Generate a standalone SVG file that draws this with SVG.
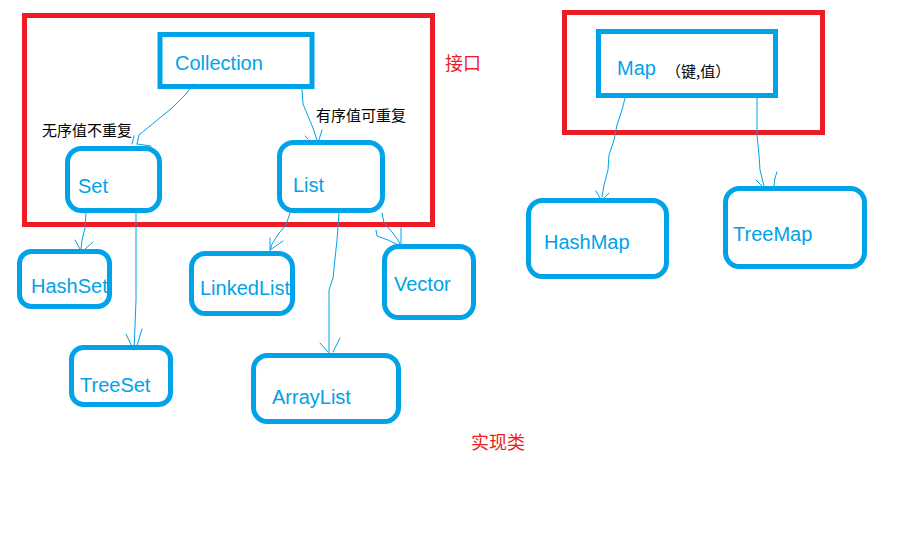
<svg xmlns="http://www.w3.org/2000/svg" width="924" height="540" viewBox="0 0 924 540">
<style>
.frame{fill:none;stroke:#ED1C24;stroke-width:5}
.box{fill:none;stroke:#00A2E8;stroke-width:5}
.lbl{font-family:"Liberation Sans",Arial,sans-serif;font-size:20px;fill:#00A2E8}
.note{font-family:"Noto Sans CJK SC",sans-serif;font-size:15px;fill:#000}
.red{font-family:"Noto Sans CJK SC",sans-serif;font-size:18px;fill:#ED1C24}
.ln{fill:none;stroke:#00A2E8;stroke-width:1;stroke-linejoin:round;stroke-linecap:round}
</style>
<rect width="924" height="540" fill="#fff"/>
<g id="interface-frame"><rect class="frame" x="24.5" y="15.5" width="408" height="209"/></g>
<g id="map-frame"><rect class="frame" x="564.5" y="12.5" width="258" height="120"/></g>
<text class="red" x="445" y="70">接口</text>
<text class="red" x="471" y="449">实现类</text>
<g id="connectors">
<polyline class="ln" points="193,84 186,94 172,108 150,126 139,135 137,144"/>
<path class="ln" d="M132,144 L134,136 M137,144 L151,146"/>
<polyline class="ln" points="302,89 303,104 308,116 313,128 318,143"/>
<path class="ln" d="M305,136 L308,139 M318,143 L322,130"/>
<polyline class="ln" points="86,213 85,228 82,240 81,249"/>
<path class="ln" d="M75,240 L80,249 M93,242 L85,249"/>
<polyline class="ln" points="136,213 136,300 135,326 134,350"/>
<path class="ln" d="M126,334 L133,349 M142,329 L136,349"/>
<polyline class="ln" points="290,213 286,225 279,233 272,244 270,251"/>
<path class="ln" d="M270,238 L270,250 L283,241"/>
<polyline class="ln" points="339,213 337,240 333,278 329,290 329,355"/>
<path class="ln" d="M320,343 L328,352 M340,338 L333,352"/>
<polyline class="ln" points="382,213 384,223 392,232 398,240 400,244"/>
<path class="ln" d="M376,230 L377,236 L388,240 L398,245 M401,228 L401,244"/>
<polyline class="ln" points="625,98 622,110 617,125 614,140 609,155 608,170 604,185 602,197"/>
<path class="ln" d="M596,191 L600,198 M609,193 L604,198"/>
<polyline class="ln" points="757,98 757,135 759,155 760,170 764,186"/>
<path class="ln" d="M756,180 L762,186 M777,172 L775,178 L774,186"/>
</g>
<g id="collection"><rect class="box" x="160" y="34.5" width="152" height="52"/><text class="lbl" x="175" y="70">Collection</text></g>
<g id="set"><rect class="box" x="67.5" y="148.5" width="92" height="62" rx="14"/><text class="lbl" x="78" y="193">Set</text></g>
<g id="list"><rect class="box" x="279.5" y="142.5" width="103" height="68" rx="14"/><text class="lbl" x="293" y="192">List</text></g>
<text class="note" x="42" y="136">无序值不重复</text>
<text class="note" x="316" y="121">有序值可重复</text>
<g id="hashset"><rect class="box" x="19.5" y="251.5" width="90" height="55" rx="12"/><text class="lbl" x="31" y="293">HashSet</text></g>
<g id="treeset"><rect class="box" x="71.5" y="347.5" width="99" height="57" rx="12"/><text class="lbl" x="80" y="392">TreeSet</text></g>
<g id="linkedlist"><rect class="box" x="191.5" y="253.5" width="101" height="60" rx="14"/><text class="lbl" x="200" y="295">LinkedList</text></g>
<g id="vector"><rect class="box" x="384.5" y="246.5" width="89" height="71" rx="14"/><text class="lbl" x="394" y="291">Vector</text></g>
<g id="arraylist"><rect class="box" x="253.5" y="355.5" width="145" height="66" rx="14"/><text class="lbl" x="272" y="404">ArrayList</text></g>
<g id="map"><rect class="box" x="598.5" y="31.5" width="177" height="64"/><text class="lbl" x="617" y="75">Map</text><text class="note" x="666" y="77">（键,值）</text></g>
<g id="hashmap"><rect class="box" x="528.5" y="200.5" width="138" height="76" rx="14"/><text class="lbl" x="544" y="249">HashMap</text></g>
<g id="treemap"><rect class="box" x="725.5" y="188.5" width="139" height="78" rx="14"/><text class="lbl" x="733" y="241">TreeMap</text></g>
</svg>
